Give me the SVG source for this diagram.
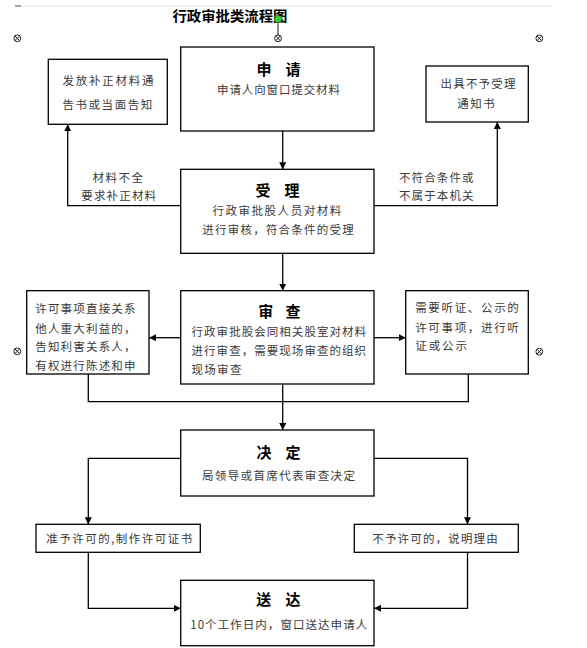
<svg xmlns="http://www.w3.org/2000/svg" width="587" height="648" viewBox="0 0 587 648">
<defs>
<style>
.box{fill:#fff;stroke:#000;stroke-width:1.3}
.ln{fill:none;stroke:#000;stroke-width:1.3}
.t{font-family:"Noto Sans CJK SC","Noto Sans CJK JP",sans-serif;font-size:11.5px;fill:#3a3a3a}
.h{font-family:"Noto Sans CJK SC","Noto Sans CJK JP",sans-serif;font-size:15px;font-weight:bold;fill:#000}
.x{fill:#fff;stroke:#222;stroke-width:1}
</style>
<marker id="ar" viewBox="0 0 10 10" refX="10" refY="5" markerWidth="7" markerHeight="7" markerUnits="userSpaceOnUse" orient="auto">
<path d="M0,0 L10,5 L0,10 z" fill="#000"/>
</marker>
<g id="xm"><circle class="x" cx="0" cy="0" r="3.4"/><path d="M-2.3,-2.3 L2.3,2.3 M-2.3,2.3 L2.3,-2.3" stroke="#222" stroke-width="1"/></g>
</defs>
<rect width="587" height="648" fill="#fff"/>
<line x1="15" y1="6" x2="552" y2="6" stroke="#e2e2e2" stroke-width="1"/>
<line x1="15" y1="6" x2="21" y2="6" stroke="#555" stroke-width="1"/>
<text x="172.5" y="21" font-family="Noto Sans CJK SC,sans-serif" font-size="14" font-weight="bold" fill="#000" textLength="115" lengthAdjust="spacingAndGlyphs">行政审批类流程图</text>
<line x1="278" y1="19" x2="278" y2="38" stroke="#000" stroke-width="0.9"/>
<circle cx="278" cy="19" r="3.6" fill="#3ccf3c" stroke="#1d7a1d" stroke-width="0.8"/>
<use href="#xm" x="17.3" y="38.3"/>
<use href="#xm" x="278" y="38.3"/>
<use href="#xm" x="539.3" y="38.3"/>
<use href="#xm" x="17.3" y="351.3"/>
<use href="#xm" x="539.3" y="351.7"/>

<g id="connectors">
<path class="ln" d="M282.7,131 V169.3" marker-end="url(#ar)"/>
<path class="ln" d="M180.7,205.7 H67.7 V124.3" marker-end="url(#ar)"/>
<path class="ln" d="M374,205.7 H497.3 V122" marker-end="url(#ar)"/>
<path class="ln" d="M282.7,253.3 V290.7" marker-end="url(#ar)"/>
<path class="ln" d="M180.7,337.7 H149" marker-end="url(#ar)"/>
<path class="ln" d="M374,337.7 H405.7" marker-end="url(#ar)"/>
<path class="ln" d="M88.3,374 V401.7 H468.3 V374"/>
<path class="ln" d="M282.7,384 V430" marker-end="url(#ar)"/>
<path class="ln" d="M180.7,458.3 H88.3 V524.3" marker-end="url(#ar)"/>
<path class="ln" d="M374,458.3 H467.5 V524.3" marker-end="url(#ar)"/>
<path class="ln" d="M88.3,552.3 V608.3 H180.7" marker-end="url(#ar)"/>
<path class="ln" d="M467.5,552.3 V608.3 H374" marker-end="url(#ar)"/>
<text class="t" x="92.5" y="181.7" textLength="50.5">材料不全</text>
<text class="t" x="81.3" y="200.4" textLength="74.8">要求补正材料</text>
<text class="t" x="398.9" y="181.7" textLength="74.6">不符合条件或</text>
<text class="t" x="398.9" y="200.4" textLength="74.6">不属于本机关</text>
</g>

<g id="n-shenqing">
<rect class="box" x="180.7" y="47" width="193.3" height="84"/>
<text class="h" x="256.5" y="75" textLength="44">申 请</text>
<text class="t" x="217" y="93.7" textLength="122.9">申请人向窗口提交材料</text>
</g>

<g id="n-bufa">
<rect class="box" x="48.3" y="59.3" width="119" height="65"/>
<text class="t" x="62.5" y="85.4" textLength="91">发放补正材料通</text>
<text class="t" x="62.5" y="108.7" textLength="89.7">告书或当面告知</text>
</g>

<g id="n-buyushouli">
<rect class="box" x="426" y="66" width="102.3" height="56"/>
<text class="t" x="440.5" y="88.4" textLength="75">出具不予受理</text>
<text class="t" x="457.2" y="108.4" textLength="37.6">通知书</text>
</g>

<g id="n-shouli">
<rect class="box" x="180.7" y="169.3" width="193.3" height="84"/>
<text class="h" x="255.5" y="195.7" textLength="44">受 理</text>
<text class="t" x="212.5" y="215.1" textLength="128.7">行政审批股人员对材料</text>
<text class="t" x="202.2" y="233.7" textLength="151.6">进行审核，符合条件的受理</text>
</g>

<g id="n-shencha">
<rect class="box" x="180.7" y="290.7" width="193.3" height="93.3"/>
<text class="h" x="258.3" y="317.4" textLength="42.2">审 查</text>
<text class="t" x="191.5" y="336.1" textLength="174.6">行政审批股会同相关股室对材料</text>
<text class="t" x="191.5" y="355.4" textLength="174.6">进行审查，需要现场审查的组织</text>
<text class="t" x="191.5" y="374.4" textLength="49.9">现场审查</text>
</g>

<g id="n-gaozhi">
<rect class="box" x="26.7" y="290.7" width="122.3" height="83.3"/>
<text class="t" x="35.2" y="312.7" textLength="100.3">许可事项直接关系</text>
<text class="t" x="35.2" y="332.7" textLength="100.3">他人重大利益的，</text>
<text class="t" x="35.2" y="351.1" textLength="100.3">告知利害关系人，</text>
<text class="t" x="35.2" y="370.4" textLength="100.3">有权进行陈述和申</text>
</g>

<g id="n-tingzheng">
<rect class="box" x="405.7" y="290.7" width="122.6" height="83.3"/>
<text class="t" x="415.2" y="311.7" textLength="103.6">需要听证、公示的</text>
<text class="t" x="415.2" y="331.7" textLength="103.6">许可事项，进行听</text>
<text class="t" x="415.2" y="350.1" textLength="51.8">证或公示</text>
</g>

<g id="n-jueding">
<rect class="box" x="180.7" y="430" width="193.3" height="66"/>
<text class="h" x="256.5" y="458" textLength="44">决 定</text>
<text class="t" x="202" y="480.4" textLength="152.9">局领导或首席代表审查决定</text>
</g>

<g id="n-zhunyu">
<rect class="box" x="36" y="524.3" width="164.3" height="28"/>
<text class="t" x="46.2" y="543.4" textLength="146">准予许可的,制作许可证书</text>
</g>

<g id="n-buyu">
<rect class="box" x="354.3" y="524.3" width="164" height="28"/>
<text class="t" x="372.2" y="543.4" textLength="125.6">不予许可的，说明理由</text>
</g>

<g id="n-songda">
<rect class="box" x="180.7" y="580.3" width="193.3" height="65.4"/>
<text class="h" x="256.2" y="604.7" textLength="44.3">送 达</text>
<text class="t" x="190.2" y="629.4" textLength="177">10个工作日内，窗口送达申请人</text>
</g>
</svg>
